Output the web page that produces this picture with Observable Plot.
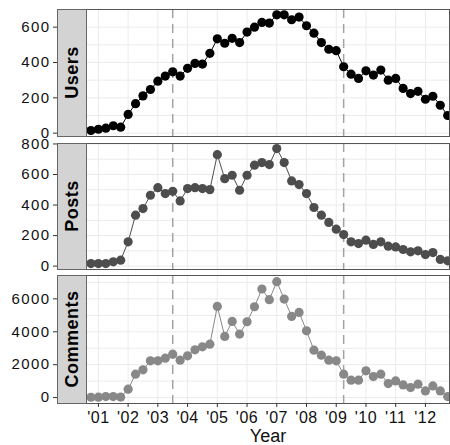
<!DOCTYPE html>
<html><head><meta charset="utf-8">
<script src="https://cdn.jsdelivr.net/npm/d3@7"></script>
<script src="https://cdn.jsdelivr.net/npm/@observablehq/plot@0.6"></script>
<style>body{margin:0;background:#fff;} #chart{width:450px;} #chart svg{overflow:visible;}</style>
</head><body><div id="chart"></div>
<script>
const time = [2000.75,2001,2001.25,2001.5,2001.75,2002,2002.25,2002.5,2002.75,2003,2003.25,2003.5,2003.75,2004,2004.25,2004.5,2004.75,2005,2005.25,2005.5,2005.75,2006,2006.25,2006.5,2006.75,2007,2007.25,2007.5,2007.75,2008,2008.25,2008.5,2008.75,2009,2009.25,2009.5,2009.75,2010,2010.25,2010.5,2010.75,2011,2011.25,2011.5,2011.75,2012,2012.25,2012.5,2012.75];
const users = [15,22,28,42,34,106,167,211,247,294,323,347,323,367,395,391,452,534,509,537,513,572,600,627,623,670,670,642,657,608,566,513,475,467,376,334,310,353,329,357,300,310,253,224,237,192,209,158,100];
const posts = [17,17,17,28,39,159,334,377,464,514,475,490,427,508,514,508,501,730,573,595,497,595,661,678,665,770,678,558,534,475,384,334,286,242,207,159,148,170,142,159,131,126,109,94,100,76,89,44,35];
const comments = [20,25,60,60,30,508,1421,1685,2233,2233,2395,2639,2274,2538,2903,3086,3248,5542,3715,4628,3857,4608,5522,6598,5948,7044,5989,4933,5177,4060,2883,2578,2274,2233,1421,1056,1056,1624,1279,1421,853,1015,771,609,812,406,711,406,61];
const events = [2003.5, 2009.25];
const yearTicks = [2001,2002,2003,2004,2005,2006,2007,2008,2009,2010,2011,2012];
const yearLabels = ["'01","'02","'03","'04","'05","'06","'07","'08","'09","'10","'11","'12"];
const panelNames = ["Users","Posts","Comments"];
const usersTicks = [0,200,400,600];
const usersGrid = [0,100,200,300,400,500,600,700];
const postsTicks = [0,200,400,600,800];
const postsGrid = [0,100,200,300,400,500,600,700,800];
const commentsTicks = [0,2000,4000,6000];
const commentsGrid = [0,1000,2000,3000,4000,5000,6000,7000];

const panels = [
  {name: panelNames[0], values: users, color: "#000000", domain: [-19, 700], ticks: usersTicks, grid: usersGrid, h: 137, mt: 9, mb: 1},
  {name: panelNames[1], values: posts, color: "#4d4d4d", domain: [-22, 803], ticks: postsTicks, grid: postsGrid, h: 133, mt: 6, mb: 1},
  {name: panelNames[2], values: comments, color: "#888888", domain: [-360, 7420], ticks: commentsTicks, grid: commentsGrid, h: 175, mt: 5, mb: 42}
];
const ML = 86, STRIP = 29;
const chart = document.getElementById("chart");
panels.forEach((p, k) => {
  const isLast = k === panels.length - 1;
  const data = time.map((t, i) => ({t, v: p.values[i]}));
  const plot = Plot.plot({
    width: 450, height: p.h,
    marginLeft: ML, marginRight: 1, marginTop: p.mt, marginBottom: p.mb,
    style: {fontFamily: "'Liberation Sans', Arial, sans-serif", background: "transparent", color: "#111", overflow: "visible"},
    x: {domain: [2000.6, 2012.81], axis: null},
    y: {domain: p.domain, axis: null},
    marks: [
      Plot.gridX(yearTicks, {stroke: "#ebebeb", strokeOpacity: 1, strokeWidth: 1}),
      Plot.gridY(p.grid, {stroke: "#ebebeb", strokeOpacity: 1, strokeWidth: 1}),
      Plot.ruleX(events, {stroke: "#a3a3a3", strokeWidth: 1.5, strokeDasharray: "9,6"}),
      Plot.line(data, {x: "t", y: "v", stroke: p.color, strokeWidth: 1}),
      Plot.dot(data, {x: "t", y: "v", r: 4.6, fill: p.color, stroke: "none"}),
      Plot.frame({stroke: "#555"}),
      Plot.axisY(p.ticks, {anchor: "left", dx: -STRIP, tickSize: 4, tickPadding: 3, fontSize: 15, stroke: "#333", color: "#111", label: null, tickFormat: d => String(d)}),
      isLast ? Plot.axisX(yearTicks, {anchor: "bottom", tickSize: 4, tickPadding: 4, fontSize: 16, stroke: "#333", color: "#111", tickFormat: d => yearLabels[yearTicks.indexOf(d)], label: null}) : null,
      isLast ? Plot.text(["Year"], {frameAnchor: "bottom", dy: 38, lineAnchor: "bottom", fontSize: 18, fill: "#111"}) : null
    ]
  });
  const svg = d3.select(plot);
  svg.selectAll('g[aria-label="y-axis tick label"]').style("letter-spacing", "1.4px");
  svg.selectAll('g[aria-label="x-axis tick label"]').style("letter-spacing", "0.5px");
  const top = p.mt, bottom = p.h - p.mb;
  svg.append("rect").attr("x", ML - STRIP + 0.5).attr("y", top + 0.5)
    .attr("width", STRIP).attr("height", bottom - top)
    .attr("fill", "#d3d3d3").attr("stroke", "#666");
  svg.append("text")
    .attr("transform", `translate(${ML - STRIP / 2 + 0.5},${(top + bottom) / 2}) rotate(-90)`)
    .attr("text-anchor", "middle").attr("dy", "0.36em")
    .attr("font-weight", "bold").attr("font-size", 18).attr("fill", "#000")
    .style("letter-spacing", "0.5px")
    .text(p.name);
  chart.appendChild(plot);
});
</script></body></html>
